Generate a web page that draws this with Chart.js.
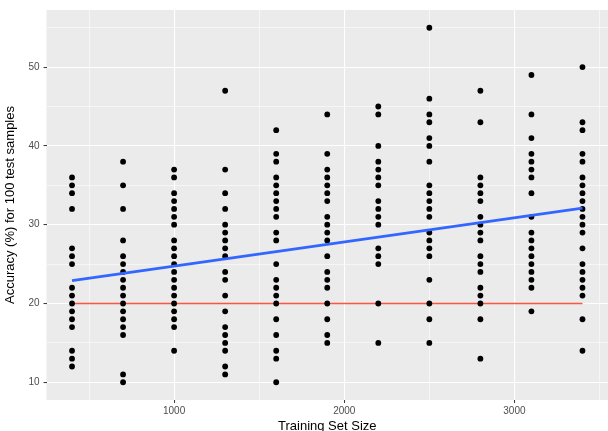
<!DOCTYPE html>
<html>
<head>
<meta charset="utf-8">
<script src="https://cdn.jsdelivr.net/npm/chart.js@4/dist/chart.umd.min.js"></script>
<style>
  html, body { margin: 0; padding: 0; background: #fff; overflow: hidden; }
  #wrap { width: 612px; height: 436px; }
</style>
</head>
<body>
<div id="wrap"><canvas id="myChart" width="612" height="436"></canvas></div>
<script>
// training set sizes (x) and accuracy per run at each size
var trainSizes = [400, 700, 1000, 1300, 1600, 1900, 2200, 2500, 2800, 3100, 3400];

var acc400  = [36, 35, 34, 32, 27, 26, 25, 22, 21, 20, 19, 18, 17, 14, 13, 12];
var acc700  = [38, 35, 32, 28, 26, 25, 24, 23, 22, 21, 20, 19, 18, 17, 16, 11, 10];
var acc1000 = [37, 36, 34, 33, 32, 31, 30, 28, 27, 26, 25, 24, 23, 22, 21, 20, 19, 18, 17, 14];
var acc1300 = [47, 37, 34, 32, 30, 29, 28, 27, 26, 24, 23, 21, 19, 17, 16, 15, 14, 12, 11];
var acc1600 = [42, 39, 38, 36, 35, 34, 33, 32, 31, 29, 28, 25, 23, 22, 21, 20, 18, 16, 14, 13, 10];
var acc1900 = [44, 39, 37, 36, 35, 34, 33, 31, 30, 29, 28, 26, 24, 23, 22, 20, 18, 16, 15];
var acc2200 = [45, 44, 40, 38, 37, 36, 35, 33, 32, 31, 30, 27, 26, 25, 20, 15];
var acc2500 = [55, 46, 44, 43, 41, 40, 38, 35, 34, 33, 32, 31, 29, 28, 27, 26, 23, 20, 18, 15];
var acc2800 = [47, 43, 36, 35, 34, 33, 31, 30, 29, 28, 26, 25, 24, 22, 21, 20, 18, 13];
var acc3100 = [49, 44, 41, 39, 38, 37, 36, 34, 31, 29, 28, 27, 26, 25, 24, 23, 22, 19];
var acc3400 = [50, 43, 42, 39, 38, 36, 35, 34, 33, 32, 31, 30, 29, 27, 25, 24, 23, 22, 21, 18, 14];

var accuracy = [acc400, acc700, acc1000, acc1300, acc1600, acc1900,
                acc2200, acc2500, acc2800, acc3100, acc3400];

// fitted lm line and the chance level
var trendX = [400, 3400];
var trendY = [22.9, 32.1];
var chanceY = 20;

// axes
var xGrid = [500, 1000, 1500, 2000, 2500, 3000, 3500];
var xTickLabels = [1000, 2000, 3000];
var yGrid = [10, 15, 20, 25, 30, 35, 40, 45, 50, 55];
var yTickLabels = [10, 20, 30, 40, 50];

var points = [];
trainSizes.forEach(function (s, i) {
  accuracy[i].forEach(function (v) { points.push({ x: s, y: v }); });
});

var font = "'Liberation Sans', Arial, Helvetica, sans-serif";

var panelBg = {
  id: 'panelBg',
  beforeDraw: function (chart) {
    var a = chart.chartArea, c = chart.ctx;
    c.save();
    c.fillStyle = '#ebebeb';
    c.fillRect(a.left, a.top, a.right - a.left, a.bottom - a.top);
    c.restore();
  }
};

new Chart('myChart', {
  type: 'scatter',
  data: {
    datasets: [{
      type: 'line',
      data: [{ x: trendX[0], y: chanceY }, { x: trendX[1], y: chanceY }],
      borderColor: '#ff5540',
      backgroundColor: '#ff5540',
      borderWidth: 1.6,
      pointRadius: 0,
      showLine: true,
      order: 3
    }, {
      data: points,
      backgroundColor: '#000',
      borderWidth: 0,
      pointRadius: 2.9,
      order: 2
    }, {
      type: 'line',
      data: trendX.map(function (x, i) { return { x: x, y: trendY[i] }; }),
      borderColor: '#3366ff',
      backgroundColor: '#3366ff',
      borderWidth: 2.6,
      pointRadius: 0,
      showLine: true,
      order: 1
    }]
  },
  options: {
    responsive: false,
    animation: false,
    layout: { padding: { top: 9.5, right: 2.5, left: 0, bottom: 0 } },
    plugins: { legend: { display: false }, tooltip: { enabled: false } },
    scales: {
      x: {
        type: 'linear',
        min: 250,
        max: 3550,
        afterBuildTicks: function (s) { s.ticks = xGrid.map(function (v) { return { value: v }; }); },
        afterFit: function (s) { s.height = 36; },
        border: { display: false },
        grid: {
          color: '#ffffff',
          lineWidth: function (c) { return xTickLabels.indexOf(c.tick.value) >= 0 ? 1.1 : 0.55; },
          tickColor: function (c) { return xTickLabels.indexOf(c.tick.value) >= 0 ? '#333333' : 'rgba(0,0,0,0)'; },
          tickLength: 3,
          tickWidth: 1
        },
        ticks: {
          autoSkip: false,
          maxRotation: 0,
          padding: 2,
          color: '#4d4d4d',
          font: { family: font, size: 10 },
          callback: function (v) { return xTickLabels.indexOf(v) >= 0 ? String(v) : ''; }
        },
        title: {
          display: true,
          text: 'Training Set Size',
          color: '#000',
          font: { family: font, size: 13 },
          padding: { top: 0, bottom: 2 }
        }
      },
      y: {
        type: 'linear',
        min: 7.75,
        max: 57.25,
        afterBuildTicks: function (s) { s.ticks = yGrid.map(function (v) { return { value: v }; }); },
        afterFit: function (s) { s.width = 46.5; },
        border: { display: false },
        grid: {
          color: '#ffffff',
          lineWidth: function (c) { return yTickLabels.indexOf(c.tick.value) >= 0 ? 1.1 : 0.55; },
          tickColor: function (c) { return yTickLabels.indexOf(c.tick.value) >= 0 ? '#333333' : 'rgba(0,0,0,0)'; },
          tickLength: 3,
          tickWidth: 1
        },
        ticks: {
          autoSkip: false,
          padding: 4,
          color: '#4d4d4d',
          font: { family: font, size: 10 },
          callback: function (v) { return yTickLabels.indexOf(v) >= 0 ? String(v) : ''; }
        },
        title: {
          display: true,
          text: 'Accuracy (%) for 100 test samples',
          color: '#000',
          font: { family: font, size: 13 },
          padding: { top: 2.5, bottom: 0 }
        }
      }
    }
  },
  plugins: [panelBg]
});
</script>
</body>
</html>
